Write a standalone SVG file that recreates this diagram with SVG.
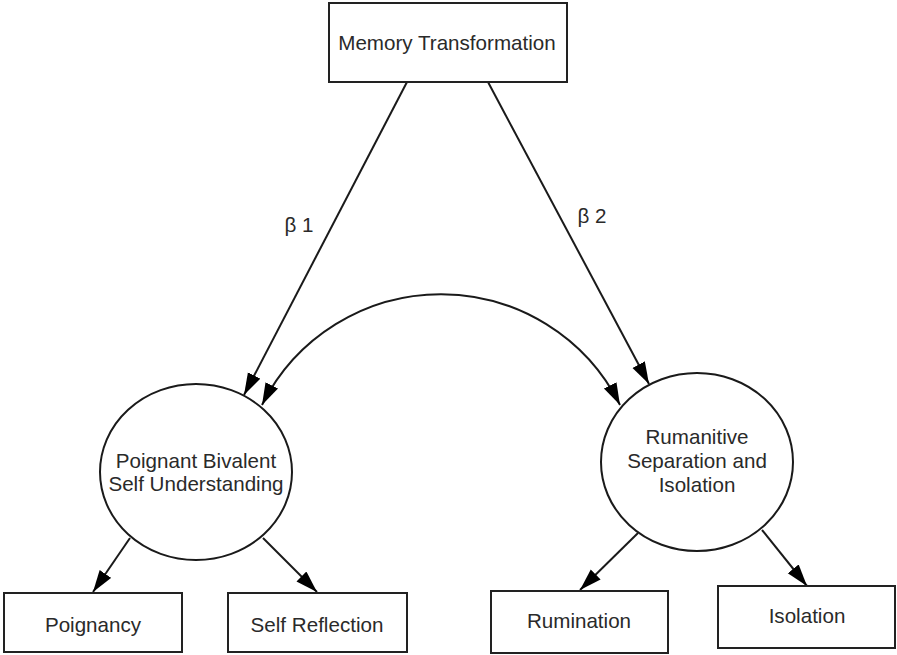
<svg xmlns="http://www.w3.org/2000/svg" width="897" height="655" viewBox="0 0 897 655">
  <style>
    .box { fill: #ffffff; stroke: #222222; stroke-width: 2; }
    .latent { fill: #ffffff; stroke: #1a1a1a; stroke-width: 2; }
    .lbl { font-family: "Liberation Sans", Arial, sans-serif; font-size: 20.6px; fill: #2a2a2a; text-anchor: middle; }
    .edge { fill: none; stroke: #1a1a1a; stroke-width: 2; }
  </style>
  <defs>
    <marker id="arrow" markerUnits="userSpaceOnUse" markerWidth="24" markerHeight="16" refX="22" refY="7" orient="auto-start-reverse">
      <path d="M0,0 L22,7 L0,14 Z" fill="#000000"/>
    </marker>
  </defs>
  <rect width="897" height="655" fill="#ffffff"/>

  <g id="connectors">
    <path class="edge" d="M407,82 L244,395" marker-end="url(#arrow)"/>
    <path class="edge" d="M488,82 L649,384" marker-end="url(#arrow)"/>
    <path class="edge" d="M262,405 A200,200 0 0 1 620,405" marker-start="url(#arrow)" marker-end="url(#arrow)"/>
    <path class="edge" d="M130,538 L93,592" marker-end="url(#arrow)"/>
    <path class="edge" d="M263,538 L317,592" marker-end="url(#arrow)"/>
    <path class="edge" d="M638,533 L580,590" marker-end="url(#arrow)"/>
    <path class="edge" d="M762,530 L807,586" marker-end="url(#arrow)"/>
    <text class="lbl" x="299" y="232">β 1</text>
    <text class="lbl" x="592" y="223">β 2</text>
  </g>

  <g id="memory-transformation">
    <rect class="box" x="329" y="3" width="238" height="79"/>
    <text class="lbl" x="447" y="50">Memory Transformation</text>
  </g>

  <g id="poignant-bivalent">
    <ellipse class="latent" cx="196" cy="472" rx="96" ry="88"/>
    <text class="lbl" x="196" y="468">Poignant Bivalent</text>
    <text class="lbl" x="196" y="491">Self Understanding</text>
  </g>

  <g id="rumanitive-separation">
    <ellipse class="latent" cx="697" cy="462" rx="96" ry="89"/>
    <text class="lbl" x="697" y="444">Rumanitive</text>
    <text class="lbl" x="697" y="468">Separation and</text>
    <text class="lbl" x="697" y="492">Isolation</text>
  </g>

  <g id="poignancy">
    <rect class="box" x="4" y="593" width="178" height="59"/>
    <text class="lbl" x="93" y="632">Poignancy</text>
  </g>

  <g id="self-reflection">
    <rect class="box" x="228" y="593" width="179" height="59"/>
    <text class="lbl" x="317" y="632">Self Reflection</text>
  </g>

  <g id="rumination">
    <rect class="box" x="491" y="591" width="177" height="62"/>
    <text class="lbl" x="579" y="628">Rumination</text>
  </g>

  <g id="isolation">
    <rect class="box" x="718" y="586" width="177" height="62"/>
    <text class="lbl" x="807" y="623">Isolation</text>
  </g>
</svg>
